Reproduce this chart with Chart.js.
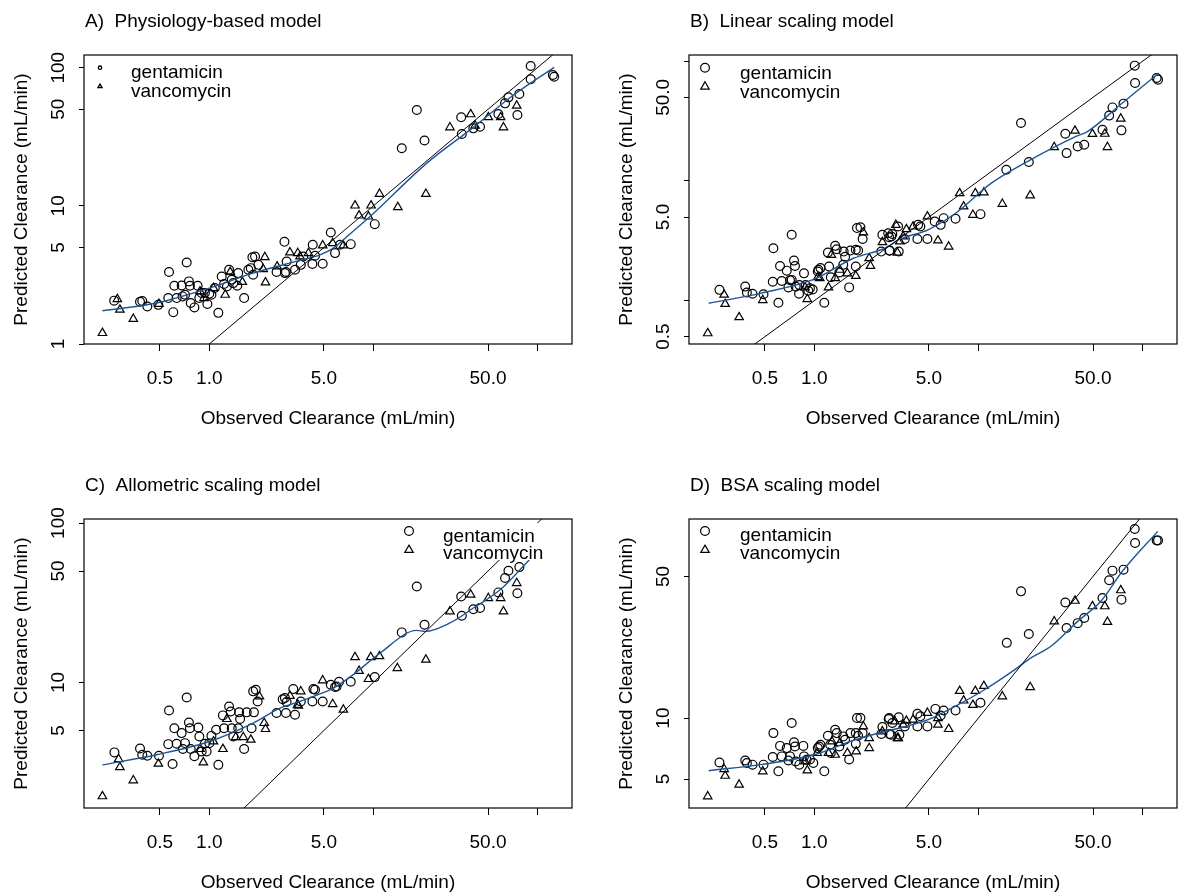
<!DOCTYPE html>
<html>
<head>
<meta charset="utf-8">
<title>Observed vs predicted clearance</title>
<script src="https://cdn.jsdelivr.net/npm/chart.js@4.4.1/dist/chart.umd.min.js"></script>
<style>
  html, body { margin: 0; padding: 0; background: #fff; width: 1191px; height: 895px; overflow: hidden; }
  .panel { position: absolute; width: 586px; height: 431px; }
  .panel canvas { display: block; }
</style>
</head>
<body>
<div class="panel" style="left:0;top:0"><canvas id="panelA" width="586" height="431"></canvas></div>
<div class="panel" style="left:605px;top:0"><canvas id="panelB" width="586" height="431"></canvas></div>
<div class="panel" style="left:0;top:464px"><canvas id="panelC" width="586" height="431"></canvas></div>
<div class="panel" style="left:605px;top:464px"><canvas id="panelD" width="586" height="431"></canvas></div>
<script>
// ---- axis ticks ----
const obsTicks = [0.5, 1, 5, 10, 50, 100];
const obsTickLabels = ['0.5', '1.0', '5.0', '', '50.0', ''];

const predTicksA = [1, 5, 10, 50, 100];
const predTickLabelsA = ['1', '5', '10', '50', '100'];
const predTicksB = [0.5, 1, 5, 10, 50, 100];
const predTickLabelsB = ['0.5', '', '5.0', '', '50.0', ''];
const predTicksC = [5, 10, 50, 100];
const predTickLabelsC = ['5', '10', '50', '100'];
const predTicksD = [5, 10, 50];
const predTickLabelsD = ['5', '10', '50'];

const panelTitles = [
  'A)  Physiology-based model',
  'B)  Linear scaling model',
  'C)  Allometric scaling model',
  'D)  BSA scaling model'
];
const drugNames = ['gentamicin', 'vancomycin'];
const xTitle = 'Observed Clearance (mL/min)';
const yTitle = 'Predicted Clearance (mL/min)';

// line of identity (observed = predicted)
const identityLine = [0.05, 500];

// ---- A) physiology-based model: [observed, predicted] ----
const gentA = [[0.263,2.06],[0.378,2.02],[0.390,2.05],[0.419,1.87],[0.489,1.92],[0.562,2.15],[0.568,3.32],[0.603,1.70],[0.612,2.64],[0.632,2.15],[0.678,2.65],[0.687,2.21],[0.711,2.27],[0.728,3.89],[0.751,2.84],[0.762,2.64],[0.770,1.98],[0.811,1.84],[0.849,2.64],[0.869,2.15],[0.898,2.34],[0.94,2.34],[0.973,1.95],[1.0,2.31],[1.03,2.27],[1.08,2.54],[1.135,1.68],[1.19,3.08],[1.23,2.72],[1.28,2.61],[1.32,3.45],[1.37,2.92],[1.40,2.76],[1.48,2.64],[1.50,3.26],[1.63,2.15],[1.73,3.45],[1.79,3.54],[1.83,4.25],[1.90,4.30],[1.99,3.74],[1.85,3.17],[2.57,3.32],[2.87,5.49],[2.93,3.32],[2.96,3.96],[3.33,3.45],[2.89,3.26],[3.61,3.74],[3.74,4.30],[4.27,5.23],[4.25,3.79],[4.41,4.35],[4.91,3.81],[5.50,6.41],[5.84,4.55],[6.26,5.23],[7.28,5.28],[10.2,7.37],[14.9,26.1],[18.4,49.4],[20.5,29.7],[34.3,43.8],[34.6,33.1],[40.7,36.4],[44.7,37.4],[57.8,46.2],[63.5,55.2],[66.6,61.0],[75.5,45.5],[77.6,64.5],[91.0,102.8],[91.0,82.4],[124.2,88.5],[126.5,86.1]];
const vancA = [[0.223,1.20],[0.275,2.11],[0.285,1.77],[0.344,1.52],[0.493,1.95],[0.877,2.40],[0.928,2.15],[1.06,2.54],[1.25,2.27],[1.34,3.32],[1.59,2.81],[2.13,3.48],[2.18,4.25],[2.20,2.79],[3.10,4.60],[2.59,3.64],[3.46,4.55],[3.57,4.30],[4.02,4.55],[4.91,5.17],[5.65,5.37],[6.56,5.17],[7.73,10.05],[8.18,8.51],[9.33,8.37],[9.68,10.05],[10.9,12.2],[14.1,9.78],[20.9,12.2],[29.3,37.0],[39.2,46.0],[41.7,38.1],[50.2,43.8],[59.7,43.8],[62.1,37.0],[74.8,53.1]];
const smoothA = [[0.223,1.74],[0.477,1.98],[1.0,2.54],[1.85,3.26],[3.57,4.03],[4.73,4.42],[5.7,4.94],[6.9,6.0],[9.55,8.37],[21.1,20.3],[40.7,37.0],[71.5,63.4],[126.5,100.5]];

// ---- B) linear scaling model ----
const gentB = [[0.264,1.23],[0.379,1.31],[0.388,1.17],[0.420,1.14],[0.490,1.13],[0.558,1.44],[0.563,2.74],[0.604,0.961],[0.618,1.95],[0.633,1.46],[0.679,1.78],[0.695,1.29],[0.711,1.48],[0.728,3.55],[0.728,1.49],[0.752,2.16],[0.762,1.95],[0.770,1.31],[0.807,1.14],[0.81,1.35],[0.865,1.69],[0.885,1.35],[0.919,1.21],[0.941,1.27],[0.977,1.24],[1.05,1.75],[1.06,1.81],[1.09,1.87],[1.15,0.961],[1.21,2.52],[1.23,1.93],[1.26,1.57],[1.34,2.87],[1.37,2.69],[1.42,1.72],[1.50,1.99],[1.51,2.57],[1.54,2.33],[1.63,1.29],[1.66,2.62],[1.79,2.66],[1.79,1.93],[1.82,4.04],[1.91,4.11],[1.97,3.27],[1.85,2.62],[2.56,2.57],[2.60,3.55],[2.86,3.39],[2.87,2.61],[2.99,3.61],[3.24,4.16],[2.82,3.66],[2.88,2.62],[2.95,3.44],[3.27,2.57],[3.56,3.27],[4.25,3.27],[4.29,4.30],[4.43,4.16],[4.89,3.27],[5.42,4.58],[5.89,4.30],[6.14,4.89],[7.26,4.83],[10.3,5.28],[14.8,12.4],[18.2,30.5],[20.3,14.4],[33.9,24.8],[34.5,17.1],[40.3,19.4],[44.2,20.1],[57.1,26.8],[62.7,35.2],[65.7,41.2],[74.5,26.5],[76.7,44.3],[89.8,92.1],[90.2,65.9],[122.1,72.6],[124.5,70.3]];
const vancB = [[0.224,0.533],[0.282,1.12],[0.286,0.937],[0.348,0.726],[0.485,1.01],[0.877,1.29],[0.906,1.03],[1.05,1.57],[1.08,1.54],[1.22,1.29],[1.27,2.41],[1.34,1.54],[1.43,1.81],[1.59,1.69],[1.79,1.61],[1.99,3.71],[2.16,2.26],[2.20,1.95],[2.60,3.08],[3.14,4.30],[3.21,2.52],[3.32,3.12],[3.48,3.44],[3.64,3.95],[4.00,4.16],[4.89,5.05],[5.67,3.18],[6.59,2.83],[7.69,7.90],[8.13,6.12],[9.26,5.21],[9.58,7.90],[10.8,8.01],[14.0,6.44],[20.7,7.57],[29.0,19.2],[38.8,26.3],[49.6,24.7],[59.0,24.8],[61.2,19.2],[73.8,33.2]];
const smoothB = [[0.227,0.951],[0.468,1.15],[1.0,1.51],[1.73,2.26],[2.69,2.74],[3.32,3.26],[4.93,3.91],[7.26,5.38],[12.0,9.6],[20.0,14.6],[39.4,23.6],[46.2,25.9],[75.5,44.9],[126,80]];

// ---- C) allometric scaling model ----
const gentC = [[0.264,3.64],[0.378,3.85],[0.390,3.52],[0.419,3.47],[0.493,3.47],[0.562,4.10],[0.568,6.67],[0.597,3.08],[0.612,5.16],[0.632,4.12],[0.678,4.81],[0.69,3.82],[0.711,4.16],[0.728,8.05],[0.751,5.61],[0.762,5.16],[0.77,3.82],[0.811,3.44],[0.857,5.22],[0.869,4.58],[0.898,3.69],[0.94,4.12],[0.963,3.69],[1.0,4.16],[1.03,4.62],[1.10,5.05],[1.135,3.04],[1.21,6.21],[1.23,5.16],[1.32,7.06],[1.35,6.57],[1.37,5.16],[1.40,4.58],[1.50,5.16],[1.52,6.49],[1.54,5.89],[1.63,3.82],[1.69,6.49],[1.81,5.16],[1.85,8.79],[1.92,9.00],[1.87,6.49],[1.97,7.60],[2.57,6.43],[2.80,7.85],[2.89,7.98],[2.93,6.43],[3.25,9.08],[3.33,6.27],[2.96,7.53],[3.61,7.60],[4.31,9.08],[4.41,9.00],[4.25,7.60],[4.91,7.60],[5.50,9.67],[5.84,9.35],[5.97,9.44],[6.18,10.1],[7.28,10.1],[10.2,10.8],[14.9,20.6],[18.4,40.0],[20.5,23.0],[34.3,34.6],[34.6,26.2],[40.7,28.8],[44.7,29.3],[57.8,36.7],[63.5,45.2],[66.6,50.2],[75.5,36.3],[77.6,52.9]];
const vancC = [[0.223,1.93],[0.280,3.30],[0.285,2.94],[0.344,2.43],[0.489,3.09],[0.877,3.82],[0.919,3.15],[1.06,4.26],[1.21,3.82],[1.28,5.89],[1.45,4.54],[1.61,4.54],[1.79,4.37],[2.02,8.17],[2.16,5.56],[2.20,5.10],[3.10,8.24],[3.45,7.24],[3.49,7.14],[3.61,8.79],[4.91,10.3],[5.65,7.31],[6.56,6.75],[7.73,14.4],[8.18,11.8],[9.33,10.5],[9.64,14.4],[10.9,14.6],[14.0,12.3],[20.9,13.9],[29.3,27.9],[39.2,35.5],[50.2,33.8],[59.7,33.8],[62.1,27.9],[74.8,42.0]];
const smoothC = [[0.223,3.04],[0.477,3.52],[1.0,4.26],[1.85,5.56],[2.70,6.90],[3.57,7.60],[4.31,8.17],[5.70,9.21],[7.55,11.2],[11.0,15.3],[18.4,21.2],[20.7,20.9],[29.3,23.6],[40.7,29.3],[59.2,38.1],[89.3,58.9],[126,85]];

// ---- D) BSA scaling model ----
const gentD = [[0.264,6.04],[0.379,6.18],[0.388,6.00],[0.420,5.89],[0.490,5.89],[0.558,6.43],[0.563,8.43],[0.604,5.46],[0.618,7.29],[0.633,6.47],[0.679,7.11],[0.695,6.18],[0.711,6.47],[0.728,9.45],[0.752,7.59],[0.762,7.24],[0.770,6.11],[0.81,5.89],[0.857,7.29],[0.865,6.47],[0.898,6.22],[0.941,6.25],[0.986,6.00],[1.05,7.11],[1.07,7.24],[1.09,7.38],[1.15,5.46],[1.21,8.18],[1.25,7.38],[1.26,6.72],[1.34,8.76],[1.37,8.43],[1.42,7.24],[1.50,8.12],[1.54,7.82],[1.63,6.25],[1.66,8.43],[1.79,8.43],[1.79,7.46],[1.82,10.0],[1.91,10.0],[1.97,8.43],[1.85,8.18],[2.56,8.34],[2.60,9.03],[2.86,10.0],[2.87,8.34],[2.99,9.45],[2.84,9.89],[2.93,8.28],[3.27,10.08],[3.30,8.28],[3.56,9.10],[4.25,10.5],[4.25,9.10],[4.43,10.2],[4.89,9.10],[5.47,11.1],[5.89,10.3],[6.14,10.9],[7.26,10.9],[10.3,11.9],[14.9,23.5],[18.2,42.2],[20.3,26.0],[33.9,37.2],[34.5,27.8],[40.3,29.4],[44.2,31.2],[57.1,39.1],[62.7,47.9],[65.7,53.4],[74.5,38.4],[76.7,54.0],[89.8,85.7],[90.2,73.1],[122.1,75.3],[124.5,75.3]];
const vancD = [[0.224,4.11],[0.282,5.60],[0.286,5.19],[0.348,4.69],[0.485,5.46],[0.877,6.11],[0.906,5.52],[1.04,6.72],[1.22,6.72],[1.28,7.67],[1.34,6.59],[1.43,7.53],[1.59,6.72],[1.80,6.84],[1.99,9.10],[2.16,7.96],[2.16,7.11],[2.60,8.59],[3.10,9.63],[3.21,7.96],[3.25,7.96],[3.48,9.27],[3.64,9.70],[4.00,9.82],[4.89,10.6],[5.67,10.0],[5.67,9.27],[6.59,8.83],[7.69,13.6],[8.13,12.2],[9.26,11.6],[9.58,13.6],[10.8,14.4],[14.0,12.8],[20.7,14.2],[29.0,30.0],[38.8,37.9],[49.6,35.6],[59.0,35.6],[61.2,29.8],[73.8,42.7]];
const smoothD = [[0.227,5.50],[0.468,5.89],[1.0,6.59],[1.73,7.76],[2.69,8.59],[3.32,8.93],[4.93,9.82],[7.16,11.4],[10.9,13.8],[16.6,17.3],[20.9,19.8],[27.7,22.6],[40.3,30.0],[55.8,37.7],[75.5,53.0],[124,83.4]];

// ---- styling ----
const FONT_FAMILY = '"Liberation Sans", Arial, Helvetica, sans-serif';
const FONT_SIZE = 19;
const INK = '#000000';
const SMOOTH_BLUE = '#1f5597';

Chart.defaults.font.family = FONT_FAMILY;
Chart.defaults.font.size = FONT_SIZE;
Chart.defaults.color = INK;

const measureCtx = document.createElement('canvas').getContext('2d');
function widestLabel(labels) {
  measureCtx.font = FONT_SIZE + 'px ' + FONT_FAMILY;
  return Math.max(...labels.map(t => measureCtx.measureText(t).width));
}

const toPoints = pairs => pairs.map(([x, y]) => ({ x, y }));

function drawCircle(ctx, x, y, r) {
  ctx.beginPath();
  ctx.arc(x, y, r, 0, Math.PI * 2);
  ctx.stroke();
}
function drawTriangle(ctx, x, y, r) {
  const s = Math.sin(Math.PI / 3) * r;
  ctx.beginPath();
  ctx.moveTo(x, y - r);
  ctx.lineTo(x + s, y + r / 2);
  ctx.lineTo(x - s, y + r / 2);
  ctx.closePath();
  ctx.stroke();
}

// frame, panel heading and drug key
const panelDecor = {
  id: 'panelDecor',
  afterDatasetsDraw(chart, args, opts) {
    const ctx = chart.ctx;
    const a = chart.chartArea;
    const k = opts.key;
    ctx.save();
    if (k.box) {
      ctx.fillStyle = '#ffffff';
      ctx.fillRect(k.box[0], k.box[1], k.box[2], k.box[3]);
    }
    ctx.strokeStyle = INK;
    ctx.fillStyle = INK;
    ctx.lineWidth = k.small ? 1.3 : 1.2;
    drawCircle(ctx, k.sx, k.cy, k.small ? 1.7 : 4.4);
    drawTriangle(ctx, k.sx, k.ty, k.small ? 2.4 : 4.9);
    ctx.font = FONT_SIZE + 'px ' + FONT_FAMILY;
    ctx.textAlign = 'left';
    ctx.textBaseline = 'alphabetic';
    ctx.fillText(drugNames[0], k.tx, k.b1);
    ctx.fillText(drugNames[1], k.tx, k.b2);

    ctx.lineWidth = 1.2;
    ctx.strokeRect(a.left, a.top, a.right - a.left, a.bottom - a.top);

    ctx.fillText(opts.title, a.left + 1, 26.5);
    ctx.restore();
  }
};

function makePanel(canvasId, cfg) {
  const font = { family: FONT_FAMILY, size: FONT_SIZE };
  const yTickPad = 84 - 5 - widestLabel(cfg.yLabels) / 2 - 58.5;
  return new Chart(document.getElementById(canvasId), {
    type: 'scatter',
    data: {
      datasets: [
        { data: toPoints(identityLine.map(v => [v, v])), showLine: true, pointRadius: 0,
          borderColor: INK, borderWidth: 1, fill: false },
        { data: toPoints(cfg.smooth), showLine: true, pointRadius: 0,
          borderColor: SMOOTH_BLUE, borderWidth: 1.4, cubicInterpolationMode: 'monotone', fill: false },
        { label: drugNames[0], data: toPoints(cfg.gent), pointStyle: 'circle', pointRadius: 4.4,
          pointBorderColor: INK, pointBackgroundColor: 'rgba(0,0,0,0)', pointBorderWidth: 1.2 },
        { label: drugNames[1], data: toPoints(cfg.vanc), pointStyle: 'triangle', pointRadius: 4.9,
          pointBorderColor: INK, pointBackgroundColor: 'rgba(0,0,0,0)', pointBorderWidth: 1.2 }
      ]
    },
    options: {
      responsive: false,
      animation: false,
      devicePixelRatio: 1,
      events: [],
      layout: { padding: { left: 0, top: 55, right: 14, bottom: 0 } },
      plugins: {
        legend: { display: false },
        tooltip: { enabled: false },
        panelDecor: { title: cfg.title, key: cfg.key }
      },
      scales: {
        x: {
          type: 'logarithmic', position: 'bottom',
          min: cfg.xRange[0], max: cfg.xRange[1],
          afterBuildTicks: s => { s.ticks = obsTicks.map(v => ({ value: v })); },
          afterFit: s => { s.height = 87; },
          ticks: { callback: (v, i) => obsTickLabels[i], autoSkip: false, minRotation: 0, maxRotation: 0,
                   padding: 16, color: INK, font },
          grid: { drawOnChartArea: false, drawTicks: true, tickLength: 7, color: INK, lineWidth: 1 },
          border: { display: false },
          title: { display: true, text: xTitle, color: INK, font, padding: { top: 0, bottom: 1 } }
        },
        y: {
          type: 'logarithmic', position: 'left',
          min: cfg.yRange[0], max: cfg.yRange[1],
          afterBuildTicks: s => { s.ticks = cfg.yTicks.map(v => ({ value: v })); },
          afterFit: s => { s.width = 84; },
          ticks: { callback: (v, i) => cfg.yLabels[i], autoSkip: false, minRotation: 90, maxRotation: 90,
                   crossAlign: 'center', padding: yTickPad, color: INK, font },
          grid: { drawOnChartArea: false, drawTicks: true, tickLength: 5, color: INK, lineWidth: 1 },
          border: { display: false },
          title: { display: true, text: yTitle, color: INK, font, padding: { top: 10, bottom: 0 } }
        }
      }
    },
    plugins: [panelDecor]
  });
}

const obsRange = [0.1722, 162.5];

makePanel('panelA', {
  title: panelTitles[0], gent: gentA, vanc: vancA, smooth: smoothA,
  xRange: obsRange, yRange: [1.0, 123.6], yTicks: predTicksA, yLabels: predTickLabelsA,
  key: { sx: 100, cy: 67.7, ty: 86.5, tx: 131, b1: 78.3, b2: 96.7, small: true }
});
makePanel('panelB', {
  title: panelTitles[1], gent: gentB, vanc: vancB, smooth: smoothB,
  xRange: obsRange, yRange: [0.434, 113], yTicks: predTicksB, yLabels: predTickLabelsB,
  key: { sx: 100, cy: 67.7, ty: 86.7, tx: 135, b1: 79.3, b2: 97.7 }
});
makePanel('panelC', {
  title: panelTitles[2], gent: gentC, vanc: vancC, smooth: smoothC,
  xRange: obsRange, yRange: [1.63, 106], yTicks: predTicksC, yLabels: predTickLabelsC,
  key: { sx: 409, cy: 67, ty: 86, tx: 443, b1: 77.7, b2: 95.3, box: [392, 59, 164, 37] }
});
makePanel('panelD', {
  title: panelTitles[3], gent: gentD, vanc: vancD, smooth: smoothD,
  xRange: obsRange, yRange: [3.6, 96], yTicks: predTicksD, yLabels: predTickLabelsD,
  key: { sx: 100, cy: 67, ty: 86, tx: 135, b1: 76.5, b2: 94.5 }
});
</script>
</body>
</html>
